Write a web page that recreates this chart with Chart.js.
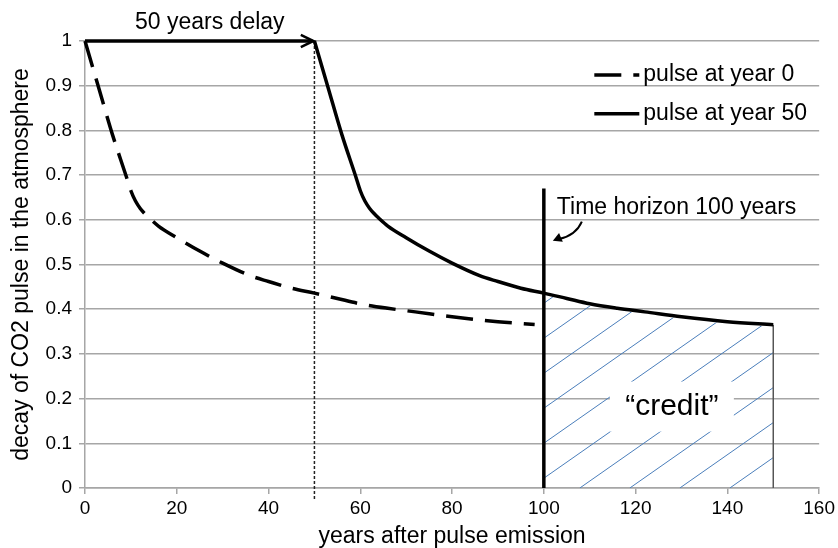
<!DOCTYPE html>
<html>
<head>
<meta charset="utf-8">
<script src="https://cdn.jsdelivr.net/npm/chart.js@4"></script>
<style>
  html, body { margin: 0; padding: 0; background: #fff; }
  canvas { display: block; }
</style>
</head>
<body>
<canvas id="decay-chart" width="838" height="548"></canvas>
<script>
// decay of a CO2 pulse, emitted now vs. emitted 50 years later
const yearsNow = [0, 3, 6, 9, 10, 11, 12, 13, 14, 16, 20, 25, 30, 36, 40, 45, 50, 55, 60, 66, 72, 80, 90, 98];
const decayNow = [1, 0.895, 0.79, 0.697, 0.665, 0.642, 0.626, 0.614, 0.604, 0.586, 0.56, 0.53, 0.503, 0.475, 0.462, 0.447, 0.436, 0.424, 0.412, 0.402, 0.394, 0.383, 0.372, 0.366];

const yearsLater = [50, 53, 56, 59, 60, 61, 62, 63, 64, 66, 70, 75, 80, 86, 90, 95, 100, 105, 110, 116, 122, 130, 140, 150];
const decayLater = [1, 0.895, 0.79, 0.697, 0.665, 0.642, 0.626, 0.614, 0.604, 0.586, 0.56, 0.53, 0.503, 0.475, 0.462, 0.447, 0.436, 0.424, 0.412, 0.402, 0.394, 0.383, 0.372, 0.365];

const seriesLabels = ['pulse at year 0', 'pulse at year 50'];
const xTicks = [0, 20, 40, 60, 80, 100, 120, 140, 160];
const yTicks = [0, 0.1, 0.2, 0.3, 0.4, 0.5, 0.6, 0.7, 0.8, 0.9, 1];

const delayYears = 50;
const horizonYear = 100;
const horizonTop = 0.67;
const creditEnd = 150;

const FONT = '"Liberation Sans", Arial, Helvetica, sans-serif';
const GRID = '#a6a6a6';
const HATCH = '#4a7ebb';

const toPoints = (xs, ys) => xs.map((x, i) => ({ x, y: ys[i] }));

function arrowHead(ctx, tipX, tipY, angle, len, spread, filled) {
    ctx.beginPath();
    ctx.moveTo(tipX - len * Math.cos(angle - spread), tipY - len * Math.sin(angle - spread));
    ctx.lineTo(tipX, tipY);
    ctx.lineTo(tipX - len * Math.cos(angle + spread), tipY - len * Math.sin(angle + spread));
    if (filled) {
        ctx.closePath();
        ctx.fill();
    } else {
        ctx.stroke();
    }
}

// hatched "credit" area, horizon lines and the delay marker under the curves
const underlay = {
    id: 'underlay',
    beforeDatasetsDraw(chart) {
        const { ctx, scales: { x, y } } = chart;
        const x100 = x.getPixelForValue(horizonYear);
        const x150 = x.getPixelForValue(creditEnd);
        const y0 = y.getPixelForValue(0);

        ctx.save();
        // clip to the area under the delayed curve between 100 and 150
        ctx.beginPath();
        ctx.moveTo(x100, y0);
        yearsLater.forEach((yr, i) => {
            if (yr >= horizonYear && yr <= creditEnd) {
                ctx.lineTo(x.getPixelForValue(yr), y.getPixelForValue(decayLater[i]) + 2);
            }
        });
        ctx.lineTo(x150, y0);
        ctx.closePath();
        ctx.clip();

        ctx.strokeStyle = HATCH;
        ctx.lineWidth = 1;
        for (let k = -10; k <= 3; k++) {
            const bx = x100 + 36 + k * 50;
            ctx.beginPath();
            ctx.moveTo(bx, y0);
            ctx.lineTo(bx + 500, y0 - 0.7 * 500);
            ctx.stroke();
        }
        ctx.restore();

        // blank patch behind the label
        ctx.save();
        const cx = x.getPixelForValue(127.9);
        const cy = y.getPixelForValue(0.182);
        ctx.fillStyle = '#fff';
        ctx.fillRect(cx - 62, cy - 25, 124, 50);
        ctx.fillStyle = '#000';
        ctx.font = '30px ' + FONT;
        ctx.textAlign = 'center';
        ctx.textBaseline = 'middle';
        ctx.fillText('\u201Ccredit\u201D', cx, cy);
        ctx.restore();

        // end of the credit period
        ctx.save();
        ctx.strokeStyle = '#555';
        ctx.lineWidth = 1.5;
        ctx.beginPath();
        ctx.moveTo(x150, y0);
        ctx.lineTo(x150, y.getPixelForValue(decayLater[decayLater.length - 1]));
        ctx.stroke();

        // dotted marker at the delayed emission
        const x50 = x.getPixelForValue(delayYears);
        ctx.strokeStyle = '#222';
        ctx.lineWidth = 1.5;
        ctx.setLineDash([3, 2]);
        ctx.beginPath();
        ctx.moveTo(x50, y.getPixelForValue(1));
        ctx.lineTo(x50, y0 + 12);
        ctx.stroke();
        ctx.setLineDash([]);

        // time horizon
        ctx.strokeStyle = '#000';
        ctx.lineWidth = 3.5;
        ctx.beginPath();
        ctx.moveTo(x100, y0);
        ctx.lineTo(x100, y.getPixelForValue(horizonTop));
        ctx.stroke();
        ctx.restore();
    },
    afterDatasetsDraw(chart) {
        const { ctx, scales: { x, y } } = chart;
        const y1 = y.getPixelForValue(1);
        const x0 = x.getPixelForValue(0);
        const x50 = x.getPixelForValue(delayYears);

        ctx.save();
        // delay arrow
        ctx.strokeStyle = '#000';
        ctx.lineWidth = 3.5;
        ctx.beginPath();
        ctx.moveTo(x0, y1);
        ctx.lineTo(x50 - 2, y1);
        ctx.stroke();
        ctx.lineWidth = 2.5;
        arrowHead(ctx, x50 - 1, y1, 0, 14, 0.45, false);

        ctx.fillStyle = '#000';
        ctx.font = '23px ' + FONT;
        ctx.textBaseline = 'middle';
        ctx.textAlign = 'center';
        ctx.fillText('50 years delay', x.getPixelForValue(27.2), y1 - 18);

        // horizon label with a curved pointer
        const x100 = x.getPixelForValue(horizonYear);
        ctx.textAlign = 'left';
        ctx.fillText('Time horizon 100 years', x100 + 13, y.getPixelForValue(0.627));
        ctx.lineWidth = 2;
        ctx.beginPath();
        ctx.moveTo(x100 + 38, y.getPixelForValue(0.596));
        ctx.quadraticCurveTo(x100 + 32, y.getPixelForValue(0.565), x100 + 15, y.getPixelForValue(0.557));
        ctx.stroke();
        arrowHead(ctx, x100 + 9, y.getPixelForValue(0.553), Math.PI - 0.4, 10, 0.5, true);

        // legend
        const lx = x.getPixelForValue(111);
        const rows = [y.getPixelForValue(0.924), y.getPixelForValue(0.837)];
        chart.data.datasets.forEach((ds, i) => {
            ctx.strokeStyle = ds.borderColor;
            ctx.lineWidth = 3.5;
            ctx.setLineDash(ds.borderDash || []);
            ctx.beginPath();
            ctx.moveTo(lx, rows[i]);
            ctx.lineTo(lx + 45, rows[i]);
            ctx.stroke();
            ctx.setLineDash([]);
            ctx.fillText(ds.label, lx + 49, rows[i]);
        });
        ctx.restore();
    }
};

new Chart(document.getElementById('decay-chart').getContext('2d'), {
    type: 'line',
    data: {
        datasets: [{
            label: seriesLabels[0],
            data: toPoints(yearsNow, decayNow),
            borderColor: '#000',
            borderWidth: 3.5,
            borderDash: [27, 12],
            pointRadius: 0,
            cubicInterpolationMode: 'monotone',
            clip: 6
        }, {
            label: seriesLabels[1],
            data: toPoints(yearsLater, decayLater),
            borderColor: '#000',
            borderWidth: 3.5,
            pointRadius: 0,
            cubicInterpolationMode: 'monotone',
            clip: 6
        }]
    },
    options: {
        responsive: false,
        animation: false,
        events: [],
        layout: { padding: { top: 41, right: 18, left: 0, bottom: 0 } },
        plugins: {
            legend: { display: false },
            tooltip: { enabled: false }
        },
        scales: {
            x: {
                type: 'linear',
                min: xTicks[0],
                max: xTicks[xTicks.length - 1],
                afterFit: (scale) => { scale.height = 60; },
                afterBuildTicks: (scale) => { scale.ticks = xTicks.map(v => ({ value: v })); },
                grid: { drawOnChartArea: false, color: GRID, tickLength: 6, lineWidth: 1.5 },
                border: { color: GRID, width: 1.5 },
                ticks: { color: '#000', padding: 3, font: { family: FONT, size: 19 }, maxRotation: 0 },
                title: {
                    display: true,
                    text: 'years after pulse emission',
                    color: '#000',
                    font: { family: FONT, size: 23, lineHeight: 1 },
                    padding: { top: 0, bottom: 0 }
                }
            },
            y: {
                min: yTicks[0],
                max: yTicks[yTicks.length - 1],
                afterFit: (scale) => { scale.width = 85; },
                afterBuildTicks: (scale) => { scale.ticks = yTicks.map(v => ({ value: v })); },
                grid: { color: GRID, tickLength: 6, lineWidth: 1.5 },
                border: { color: GRID, width: 1.5 },
                ticks: {
                    color: '#000',
                    padding: 7,
                    font: { family: FONT, size: 19 },
                    callback: (v) => String(+v.toFixed(1))
                },
                title: {
                    display: true,
                    text: 'decay of CO2 pulse in the atmosphere',
                    color: '#000',
                    font: { family: FONT, size: 23, lineHeight: 1 },
                    padding: { top: 10, bottom: 0 }
                }
            }
        }
    },
    plugins: [underlay]
});
</script>
</body>
</html>
